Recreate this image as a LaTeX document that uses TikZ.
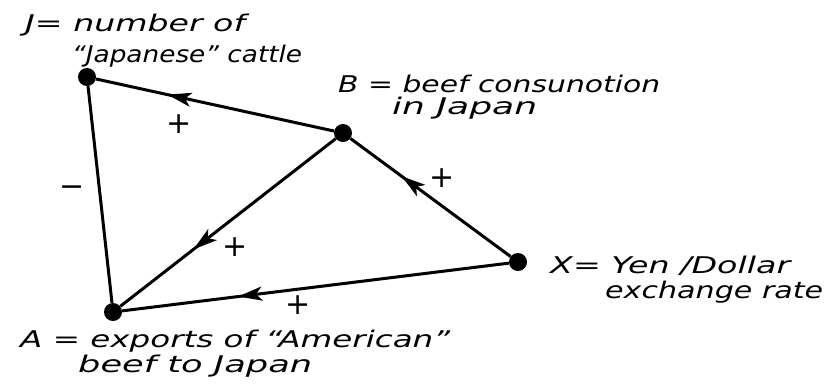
\documentclass[tikz,border=0pt]{standalone}
\usepackage{fontspec}
\setmainfont{DejaVu Sans}
\usetikzlibrary{decorations.markings,arrows.meta}
\newcommand\fitto[2]{\resizebox{#1}{\height}{#2}}
\begin{document}
\begin{tikzpicture}[x=1pt,y=-1pt,
  dot/.style={circle,fill=black,inner sep=0pt,minimum size=18pt},
  lbl/.style={anchor=base west,inner sep=0pt,font=\fontsize{23}{26}\selectfont\itshape},
  sgn/.style={font=\fontsize{30}{30}\selectfont,inner sep=0pt},
  edge/.style={line width=3pt},
  arr/.style={edge,postaction={decorate},decoration={markings,
     mark=at position #1 with {\arrow{Stealth[length=24pt,width=14pt,inset=6pt]}}}}
]
\useasboundingbox (0,0) rectangle (831,384);
\node[dot] (J) at (87,77) {};
\node[dot] (B) at (343,133) {};
\node[dot] (X) at (518,262) {};
\node[dot] (A) at (113,312) {};

\draw[edge] (J) -- (A);
\draw[arr=0.7] (B) -- (J);
\draw[arr=0.68] (X) -- (B);
\draw[arr=0.66] (B) -- (A);
\draw[arr=0.7] (X) -- (A);

\node[sgn] (sBJ) at (179,124) {+};
\node[sgn] (sXB) at (442,178) {+};
\node[sgn] (sBA) at (235,247) {+};
\node[sgn] (sXA) at (298,305) {+};
\node[sgn] (sJA) at (72,191) {−};

\node[lbl] (J1) at (25,31) {\fitto{220pt}{J= number of}};
\node[lbl] (J2) at (72,62) {\fitto{230pt}{“Japanese” cattle}};
\node[lbl] (B1) at (338,92) {\fitto{322pt}{B = beef consunotion}};
\node[lbl] (B2) at (392,114) {\fitto{145pt}{in Japan}};
\node[lbl] (X1) at (550,273) {\fitto{240pt}{X= Yen /Dollar}};
\node[lbl] (X2) at (605,298) {\fitto{218pt}{exchange rate}};
\node[lbl] (A1) at (20,347) {\fitto{430pt}{A = exports of “American”}};
\node[lbl] (A2) at (78,372) {\fitto{234pt}{beef to Japan}};
\end{tikzpicture}
\end{document}
